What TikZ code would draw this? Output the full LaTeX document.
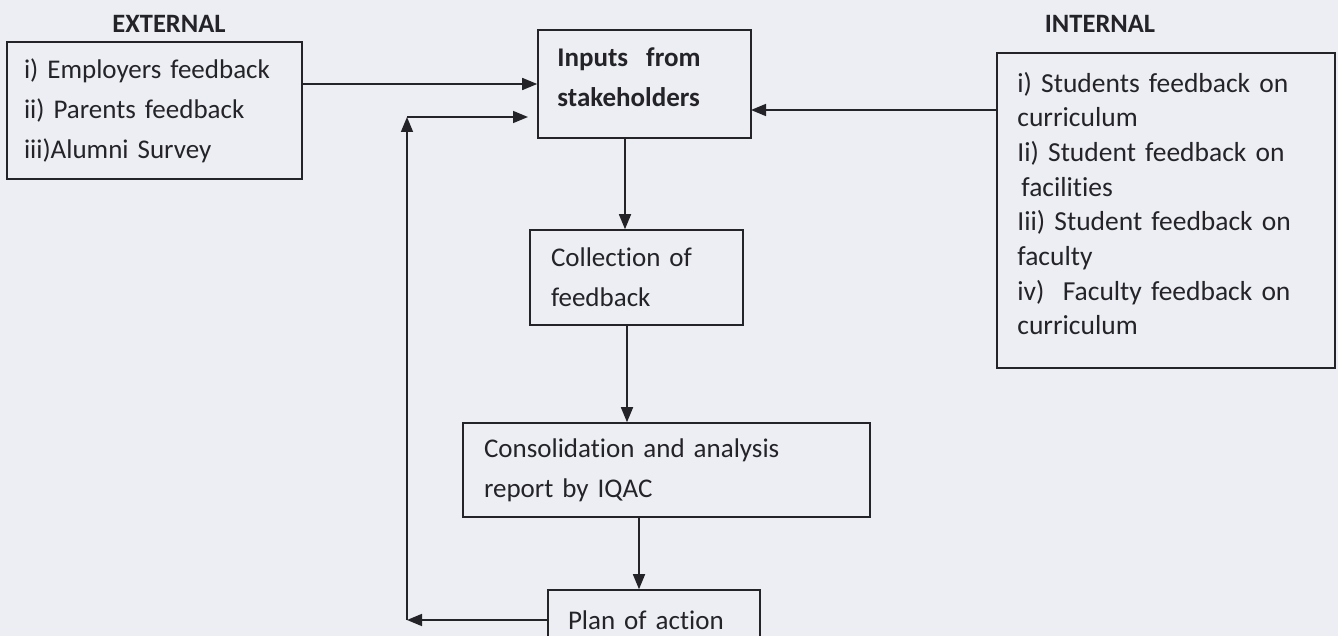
\documentclass[tikz,border=0pt]{standalone}
\usepackage{fontspec}
\setmainfont{Carlito}[Ligatures=NoCommon]
\usetikzlibrary{arrows.meta}
\definecolor{paper}{RGB}{237,238,244}
\definecolor{ink}{RGB}{35,35,40}
\begin{document}
\begin{tikzpicture}[x=1pt,y=-1pt,
  font=\fontsize{27}{40}\selectfont,
  box/.style={draw=ink, line width=1.6pt, rectangle, align=left, inner ysep=0pt, text=ink},
  txt/.style={text=ink, align=left, inner sep=0pt, anchor=west},
  head/.style={text=ink, font=\fontsize{26.5}{32}\selectfont\bfseries, inner sep=0pt},
  arr/.style={draw=ink, line width=1.6pt, -{Triangle[length=15pt,width=12pt]}}]
\useasboundingbox (0,0) rectangle (1338,636);
\fill[paper] (0,0) rectangle (1338,636);

\node[head] (exthead) at (169,24) {EXTERNAL};
\node[head] (inthead) at (1100,24) {INTERNAL};

\node[box, minimum width=295pt, minimum height=137pt, text width=261pt, inner xsep=17pt] (ext) at (154.5,110.5)
  {i) Employers feedback\\ ii) Parents feedback\\ iii)Alumni Survey};

\node[box, minimum width=213pt, minimum height=108pt] (inp) at (644.5,84) {};
\node[txt, text width=173pt] (inpt) at ([xshift=20pt,yshift=6.5pt]inp.west)
  {\textbf{Inputs~~from}\\ \textbf{stakeholders}};

\node[box, minimum width=213pt, minimum height=95pt, text width=171pt, inner xsep=21pt] (col) at (636.5,277.5)
  {Collection of\\ feedback};

\node[box, minimum width=407pt, minimum height=94pt, text width=365pt, inner xsep=21pt] (con) at (666.5,470)
  {Consolidation and analysis\\ report by IQAC};

\node[box, minimum width=212pt, minimum height=60pt, text width=172pt, inner xsep=20pt] (plan) at (654,620)
  {Plan of action};

\node[box, minimum width=338pt, minimum height=315pt] (int) at (1166,210.5) {};
\node[txt, font=\fontsize{27.5}{34.7}\selectfont, text width=296pt] (intt) at ([xshift=21pt,yshift=7pt]int.west)
  {i) Students feedback on\\ curriculum\\ Ii) Student feedback on\\ \hspace{4pt}facilities\\ Iii) Student feedback on\\ faculty\\ iv)~~Faculty feedback on\\ curriculum};

% helper coordinates
\coordinate (x1) at (625,0);
\coordinate (x2) at (627,0);
\coordinate (x3) at (639,0);
\coordinate (in2) at (751,110);
\coordinate (loopB) at (407,620);
\coordinate (loopT) at (407,117);
\coordinate (in3) at (528,117);

\draw[arr] (ext.east |- inp.west) -- (inp.west);
\draw[arr] (int.west |- in2) -- (in2);
\draw[arr] (inp.south -| x1) -- (col.north -| x1);
\draw[arr] (col.south -| x2) -- (con.north -| x2);
\draw[arr] (con.south -| x3) -- (plan.north -| x3);
\draw[arr] (plan.west) -- (loopB);
\draw[arr] (loopB) -- (loopT);
\draw[arr] (loopT) -- (in3);
\end{tikzpicture}
\end{document}
